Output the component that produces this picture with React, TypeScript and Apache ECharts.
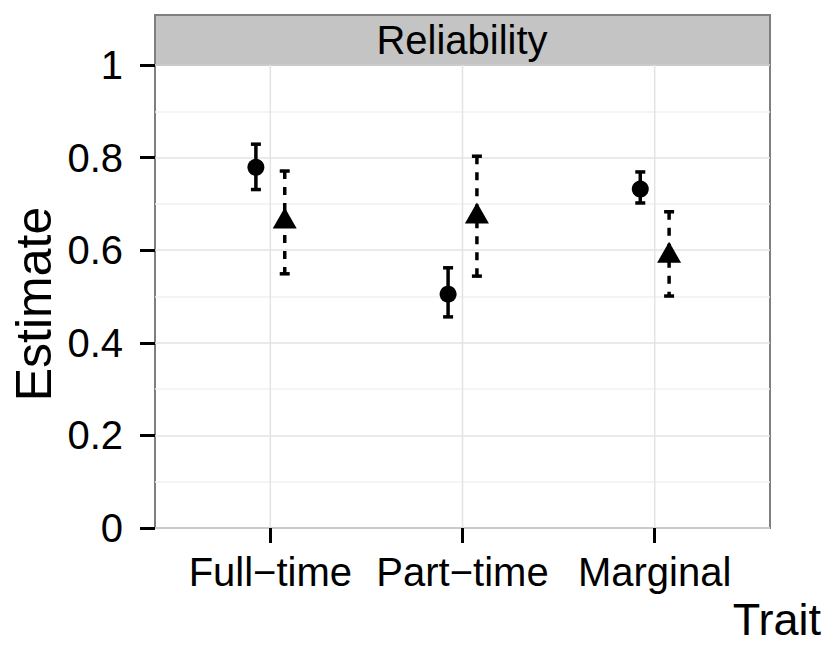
import React, { useEffect, useRef } from 'react';
import * as echarts from 'echarts';

// ---- data ----
const categories = ['Full\u2212time', 'Part\u2212time', 'Marginal'];
const circleEst = [0.779, 0.505, 0.732];
const circleLow = [0.731, 0.456, 0.702];
const circleHigh = [0.829, 0.562, 0.769];
const triEst = [0.662, 0.673, 0.588];
const triLow = [0.549, 0.544, 0.501];
const triHigh = [0.771, 0.803, 0.683];
const yTicks = [0, 0.2, 0.4, 0.6, 0.8, 1];
const panelTitle = 'Reliability';
const xTitle = 'Trait';
const yTitle = 'Estimate';

const FONT = '"Liberation Sans", Arial, Helvetica, sans-serif';
const DODGE = 0.075;
const catPos = categories.map((_, i) => i + 1);

function errorBarRenderer(dashed: boolean) {
  return (params: any, api: any) => {
    const x = api.value(0);
    const lo = api.coord([x, api.value(1)]);
    const hi = api.coord([x, api.value(2)]);
    const cap = 5;
    const base = { stroke: '#000', lineWidth: 3.5 };
    return {
      type: 'group',
      children: [
        {
          type: 'line',
          shape: { x1: hi[0], y1: hi[1], x2: lo[0], y2: lo[1] },
          style: dashed ? { ...base, lineDash: [8, 8] } : base,
        },
        {
          type: 'line',
          shape: { x1: hi[0] - cap, y1: hi[1], x2: hi[0] + cap, y2: hi[1] },
          style: base,
        },
        {
          type: 'line',
          shape: { x1: lo[0] - cap, y1: lo[1], x2: lo[0] + cap, y2: lo[1] },
          style: base,
        },
      ],
    };
  };
}

export default function App() {
  const ref = useRef<HTMLDivElement>(null);
  useEffect(() => {
    if (!ref.current) return;
    const chart = echarts.init(ref.current, undefined, { renderer: 'svg' });
    const option: any = {
      animation: false,
      backgroundColor: '#fff',
      grid: {
        left: 155,
        right: 60,
        top: 65,
        bottom: 118,
        show: true,
        borderColor: '#7f7f7f',
        borderWidth: 2,
        backgroundColor: '#fff',
      },
      xAxis: {
        type: 'value',
        min: 0.4,
        max: 3.6,
        axisLine: { show: false },
        splitLine: { show: false },
        axisTick: {
          show: true,
          customValues: catPos,
          length: 15,
          lineStyle: { color: '#000', width: 3 },
        },
        axisLabel: {
          customValues: catPos,
          formatter: (v: number) => categories[Math.round(v) - 1] ?? '',
          fontSize: 40,
          fontFamily: FONT,
          color: '#000',
          margin: 24,
        },
      },
      yAxis: {
        type: 'value',
        min: yTicks[0],
        max: yTicks[yTicks.length - 1],
        interval: 0.2,
        axisLine: { show: false },
        axisTick: { show: true, length: 15, lineStyle: { color: '#000', width: 3 } },
        axisLabel: {
          fontSize: 40,
          fontFamily: FONT,
          color: '#000',
          margin: 32,
          formatter: (v: number) => String(+v.toFixed(1)),
        },
        splitLine: { show: true, lineStyle: { color: '#e3e3e3', width: 1.5 } },
        minorTick: { show: false, splitNumber: 2 },
        minorSplitLine: { show: true, lineStyle: { color: '#f0f0f0', width: 1.5 } },
      },
      series: [
        {
          type: 'custom',
          z: 1,
          silent: true,
          data: catPos.map((p) => [p]),
          renderItem: (params: any, api: any) => {
            const x = api.value(0);
            const a = api.coord([x, 0]);
            const b = api.coord([x, 1]);
            return {
              type: 'line',
              shape: { x1: a[0], y1: a[1], x2: b[0], y2: b[1] },
              style: { stroke: '#e3e3e3', lineWidth: 1.5 },
            };
          },
        },
        {
          type: 'custom',
          z: 2,
          data: catPos.map((p, i) => [p - DODGE, circleLow[i], circleHigh[i]]),
          renderItem: errorBarRenderer(false),
        },
        {
          type: 'custom',
          z: 2,
          data: catPos.map((p, i) => [p + DODGE, triLow[i], triHigh[i]]),
          renderItem: errorBarRenderer(true),
        },
        {
          type: 'scatter',
          z: 3,
          symbol: 'circle',
          symbolSize: 17,
          itemStyle: { color: '#000', opacity: 1 },
          data: catPos.map((p, i) => [p - DODGE, circleEst[i]]),
        },
        {
          type: 'scatter',
          z: 3,
          symbol: 'triangle',
          symbolSize: [24, 21],
          symbolOffset: [0, -3.5],
          itemStyle: { color: '#000', opacity: 1 },
          data: catPos.map((p, i) => [p + DODGE, triEst[i]]),
        },
      ],
      graphic: [
        {
          type: 'rect',
          shape: { x: 155, y: 15, width: 615, height: 50 },
          style: { fill: '#c4c4c4', stroke: '#7f7f7f', lineWidth: 2 },
        },
        {
          type: 'text',
          x: 462,
          y: 40,
          style: {
            text: panelTitle,
            font: `40px ${FONT}`,
            fill: '#000',
            align: 'center',
            verticalAlign: 'middle',
          },
        },
        {
          type: 'text',
          x: 34,
          y: 304,
          rotation: Math.PI / 2,
          style: {
            text: yTitle,
            font: `50px ${FONT}`,
            fill: '#000',
            align: 'center',
            verticalAlign: 'middle',
          },
        },
        {
          type: 'text',
          x: 821,
          y: 619,
          style: {
            text: xTitle,
            font: `45px ${FONT}`,
            fill: '#000',
            align: 'right',
            verticalAlign: 'middle',
          },
        },
      ],
    };
    chart.setOption(option);
    return () => chart.dispose();
  }, []);
  return (
    <div
      ref={ref}
      style={{ position: 'fixed', left: 0, top: 0, width: 830, height: 646 }}
    />
  );
}
